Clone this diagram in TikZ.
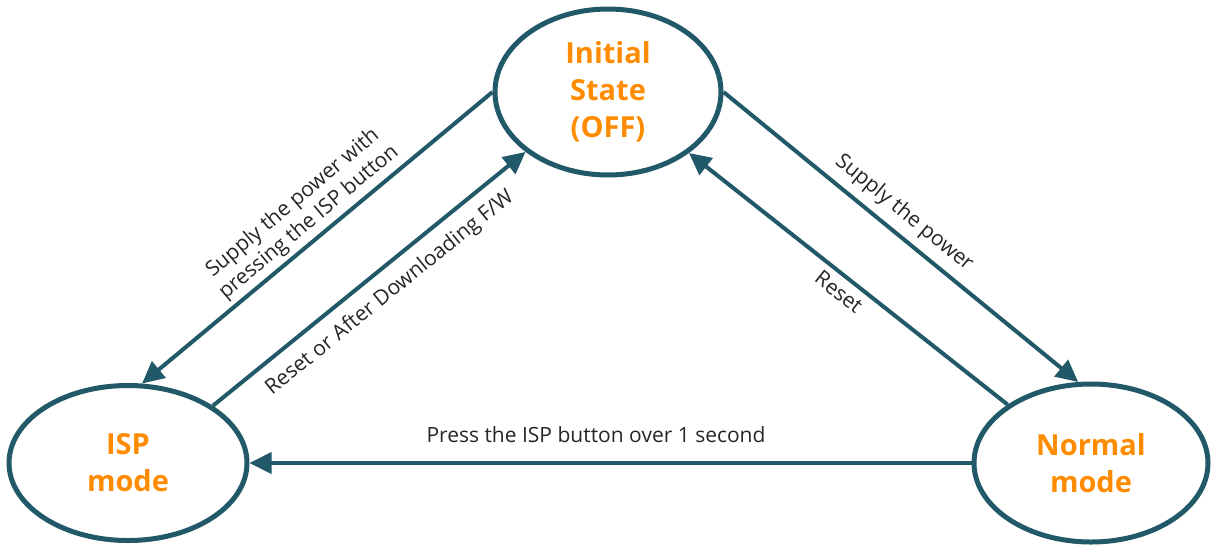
\documentclass[tikz,border=0pt]{standalone}
\usepackage{fontspec}
\setmainfont{Open Sans}
\usetikzlibrary{shapes.geometric,arrows.meta}
\definecolor{lineteal}{HTML}{215968}
\definecolor{stateorange}{HTML}{FF8C00}
\begin{document}
\begin{tikzpicture}[x=1pt,y=-1pt,
  state/.style={ellipse, draw=lineteal, line width=5pt, fill=white, inner sep=0pt, align=center, text=stateorange, font=\fontsize{29}{37}\selectfont\bfseries},
  conn/.style={draw=lineteal, line width=4pt, -{Triangle[length=22pt,width=21pt]}},
  lab/.style={font=\fontsize{21}{25}\selectfont, text=black!85, align=center, inner sep=0pt}]
\useasboundingbox (0,0) rectangle (1211,547);
\node[state, minimum width=226pt, minimum height=166pt] (init) at (608,92) {Initial\\State\\(OFF)};
\node[state, minimum width=238pt, minimum height=155pt] (isp) at (128,463) {ISP\\mode};
\node[state, minimum width=234pt, minimum height=158pt] (normal) at (1091,463) {Normal\\mode};
\draw[conn] (init.180.5) -- (isp.80.5);
\draw[conn] (isp.34.3) -- (init.216.9);
\draw[conn] (init.0) -- (normal.99.9);
\draw[conn] (normal.145) -- (init.323.8);
\draw[conn] (normal.180) -- (isp.0);
\node[lab, rotate=40] (l1) at (301,213) {Supply the power with\\pressing the ISP button};
\node[lab, rotate=39] (l2) at (390,293) {Reset or After Downloading F/W};
\node[lab, rotate=-39.2] (l3) at (904,213) {Supply the power};
\node[lab, rotate=-38.5] (l4) at (839,292) {Reset};
\node[lab] (l5) at (596,435) {Press the ISP button over 1 second};
\end{tikzpicture}
\end{document}
